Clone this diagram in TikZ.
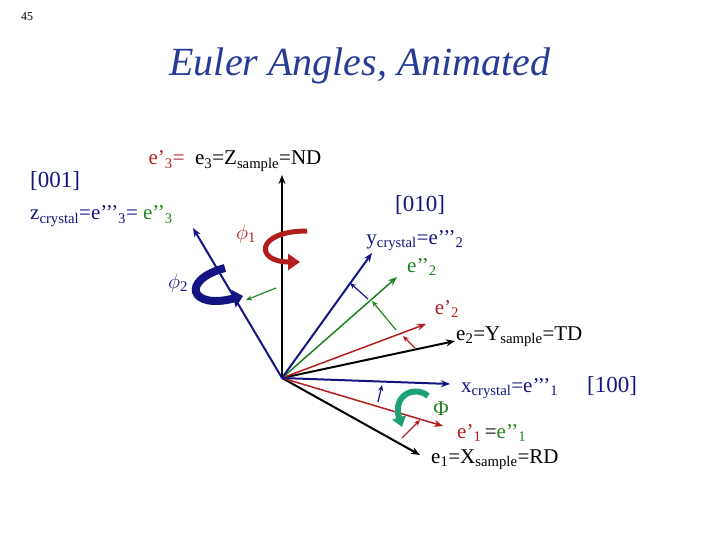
\documentclass[tikz,border=0pt]{standalone}
\usepackage{fontspec}
\setmainfont{Liberation Serif}
\usetikzlibrary{arrows.meta}
\definecolor{nv}{RGB}{20,20,130}
\definecolor{rd}{RGB}{178,30,30}
\definecolor{gn}{RGB}{30,130,30}
\definecolor{tl}{RGB}{40,60,150}
\definecolor{te}{RGB}{30,160,120}
\tikzset{ax/.style={line width=2pt,-{Stealth[length=9pt,width=7pt]}},
 sm/.style={line width=1.2pt,-{Stealth[length=6pt,width=5pt]}},
 lb/.style={font=\fontsize{21}{21}\selectfont,inner sep=0pt}}
\begin{document}
\begin{tikzpicture}[x=1pt,y=-1pt]
\useasboundingbox (0,0) rectangle (720,540);
\node[font=\fontsize{12}{12}\selectfont] (pg) at (27,17) {45};
\node[font=\fontsize{40}{40}\selectfont\itshape,text=tl] (tt) at (360,66) {Euler Angles, Animated};
\coordinate (o) at (282,378);
\coordinate (z) at (282,175);
\coordinate (zc) at (193,228);
\coordinate (yc) at (372,253);
\coordinate (y2) at (397,277);
\coordinate (y1) at (426,324);
\coordinate (e2) at (455,341);
\coordinate (xc) at (450,384);
\coordinate (x1) at (443,426);
\coordinate (e1) at (420,455);
\draw[ax,black] (o) -- (z);
\draw[ax,black] (o) -- (e2);
\draw[ax,black] (o) -- (e1);
\draw[ax,rd,line width=1.5pt] (o) -- (y1);
\draw[ax,rd,line width=1.5pt] (o) -- (x1);
\draw[ax,gn,line width=1.5pt] (o) -- (y2);
\draw[ax,nv] (o) -- (yc);
\draw[ax,nv] (o) -- (xc);
\draw[ax,nv] (o) -- (zc);
\coordinate (a1) at (368,299); \coordinate (a2) at (350,283);
\draw[sm,nv] (a1) -- (a2);
\coordinate (b1) at (396,330); \coordinate (b2) at (372,301);
\draw[sm,gn] (b1) -- (b2);
\coordinate (c1) at (415,348); \coordinate (c2) at (403,336);
\draw[sm,rd] (c1) -- (c2);
\coordinate (d1) at (276,288); \coordinate (d2) at (246,300);
\draw[sm,gn] (d1) -- (d2);
\coordinate (f1) at (378,402); \coordinate (f2) at (382,385);
\draw[sm,nv] (f1) -- (f2);
\coordinate (g1) at (402,438); \coordinate (g2) at (420,420);
\draw[sm,rd] (g1) -- (g2);
\coordinate (r1) at (307,231); \coordinate (r2) at (300,262);
\draw[rd,line width=5pt,-{Triangle[length=12pt,width=16pt]}] (r1) .. controls (255,231) and (255,262) .. (r2);
\coordinate (p1) at (225,268); \coordinate (p2) at (243,296);
\draw[nv,line width=8pt,-{Triangle[length=10pt,width=18pt]}] (p1) .. controls (180,280) and (190,310) .. (p2);
\coordinate (q1) at (428,396); \coordinate (q2) at (402,427);
\draw[te,line width=6pt,-{Triangle[length=10pt,width=14pt]}] (q1) .. controls (415,385) and (392,395) .. (q2);
\node[lb,text=nv,font=\fontsize{23}{23}\selectfont] (l001) at (55,181) {[001]};
\node[lb,anchor=base] (lz) at (235,165) {\textcolor{rd}{e’\textsubscript{3}=}\ \ e\textsubscript{3}=Z\textsubscript{sample}=ND};
\node[lb,anchor=base west,text=nv] (lzc) at (30,220) {z\textsubscript{crystal}=e’’’\textsubscript{3}= \textcolor{gn}{e’’\textsubscript{3}}};
\node[lb,text=rd] (lp1) at (246,234) {$\phi$\textsubscript{1}};
\node[lb,text=nv] (lp2) at (178,283) {$\phi$\textsubscript{2}};
\node[lb,text=nv,font=\fontsize{23}{23}\selectfont] (l010) at (420,205) {[010]};
\node[lb,anchor=base,text=nv] (lyc) at (415,244) {y\textsubscript{crystal}=e’’’\textsubscript{2}};
\node[lb,anchor=base,text=gn] (ly2) at (422,272) {e’’\textsubscript{2}};
\node[lb,anchor=base,text=rd] (ly1) at (447,314) {e’\textsubscript{2}};
\node[lb,anchor=base west] (le2) at (456,340) {e\textsubscript{2}=Y\textsubscript{sample}=TD};
\node[lb,anchor=base west,text=nv] (lxc) at (461,392) {x\textsubscript{crystal}=e’’’\textsubscript{1}};
\node[lb,text=nv,font=\fontsize{23}{23}\selectfont] (l100) at (612,386) {[100]};
\node[lb,text=gn] (lP) at (441,409) {Φ};
\node[lb,anchor=base west] (lx1) at (457,438) {\textcolor{rd}{e’\textsubscript{1}}\,=\textcolor{gn}{e’’\textsubscript{1}}};
\node[lb,anchor=base west] (le1) at (431,463) {e\textsubscript{1}=X\textsubscript{sample}=RD};
\end{tikzpicture}
\end{document}
